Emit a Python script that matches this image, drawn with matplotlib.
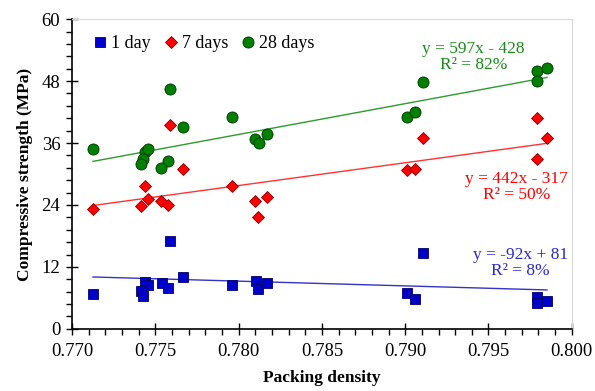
import numpy as np
import matplotlib.pyplot as plt
from matplotlib.ticker import MultipleLocator, FormatStrFormatter

plt.rcParams['font.family'] = ['Liberation Serif', 'DejaVu Serif']

# packing density / compressive strength for each curing age
x_1d = [0.77126, 0.77587, 0.77667, 0.77437, 0.77457, 0.77417, 0.77427, 0.77541, 0.77577,
        0.77958, 0.78102, 0.78118, 0.78168, 0.79109, 0.79013, 0.79059, 0.79791, 0.79791, 0.79851]
y_1d = [6.7, 17.0, 10.0, 9.0, 8.4, 7.4, 6.3, 8.8, 8.0,
        8.5, 9.3, 7.7, 8.8, 14.65, 7.0, 5.8, 6.25, 5.0, 5.4]

x_7d = [0.77126, 0.77437, 0.77457, 0.77417, 0.77587, 0.77667, 0.77537, 0.77577,
        0.77958, 0.78098, 0.78168, 0.78118, 0.79109, 0.79010, 0.79059, 0.79791, 0.79851, 0.79791]
y_7d = [23.2, 27.7, 25.2, 23.8, 39.5, 31.0, 24.8, 24.0,
        27.7, 24.8, 25.5, 21.7, 37.0, 30.8, 30.9, 40.9, 36.9, 33.0]

x_28d = [0.77126, 0.77437, 0.77457, 0.77427, 0.77417, 0.77587, 0.77667, 0.77577, 0.77537,
         0.77958, 0.78098, 0.78122, 0.78168, 0.79109, 0.79010, 0.79059, 0.79791, 0.79791, 0.79851]
y_28d = [34.8, 34.2, 34.8, 32.9, 31.9, 46.4, 39.1, 32.5, 31.1,
         41.1, 36.8, 36.1, 37.7, 47.9, 41.0, 42.1, 50.0, 48.1, 50.5]

labels = ['1 day', '7 days', '28 days']
slopes = [-92, 442, 597]
intercepts = [81, -317, -428]
eq_text = ['y = -92x + 81\nR² = 8%', 'y = 442x - 317\nR² = 50%', 'y = 597x - 428\nR² = 82%']

series = [(x_1d, y_1d), (x_7d, y_7d), (x_28d, y_28d)]
markers = ['s', 'D', 'o']
msizes = [7.5, 5.8, 8]
fills = ['#0000CC', '#FF0000', '#008000']
edges = ['#000066', '#8B0000', '#003300']
line_colors = ['#3333CC', '#FF3333', '#2E9B2E']
text_colors = ['#2A2ACC', '#FF0000', '#1A8A1A']
text_pos = [(0.7969, 12.8), (0.7967, 27.5), (0.7941, 52.6)]

fig, ax = plt.subplots(figsize=(5.95, 3.91), dpi=100)
fig.subplots_adjust(left=0.121, right=0.961, top=0.951, bottom=0.159)

handles = []
for i, (xs, ys) in enumerate(series):
    xs = np.array(xs)
    xl = np.array([xs.min(), xs.max()])
    ax.plot(xl, slopes[i] * xl + intercepts[i], color=line_colors[i], lw=1.0, zorder=2)
    h, = ax.plot(xs, ys, ls='none', marker=markers[i], ms=msizes[i],
                 mfc=fills[i], mec=edges[i], mew=0.6, label=labels[i], zorder=3)
    handles.append(h)
    ax.text(text_pos[i][0], text_pos[i][1], eq_text[i], color=text_colors[i],
            fontsize=12.5, ha='center', va='center', linespacing=1.0)

ax.set_xlim(0.770, 0.800)
ax.set_ylim(0, 60)
ax.xaxis.set_major_locator(MultipleLocator(0.005))
ax.xaxis.set_minor_locator(MultipleLocator(0.001))
ax.xaxis.set_major_formatter(FormatStrFormatter('%.3f'))
ax.yaxis.set_major_locator(MultipleLocator(12))
ax.yaxis.set_minor_locator(MultipleLocator(2.4))
ax.tick_params(which='major', direction='inout', length=9, width=1, labelsize=13.5, colors='black')
ax.tick_params(which='minor', direction='out', length=4, width=1)
ax.tick_params(axis='x', pad=6)
ax.tick_params(axis='y', pad=4)

for s in ['top', 'right']:
    ax.spines[s].set_color('#d9d9d9')
for s in ['left', 'bottom']:
    ax.spines[s].set_linewidth(1.2)

ax.set_xlabel('Packing density', fontsize=12.5, fontweight='bold', labelpad=7)
ax.set_ylabel('Compressive strength (MPa)', fontsize=12.5, fontweight='bold', labelpad=6)

ax.legend(handles=handles, loc='upper left', bbox_to_anchor=(0.01, 0.995), ncol=3,
          frameon=False, fontsize=13, handletextpad=0.1, columnspacing=0.6,
          handlelength=1.0, borderpad=0.3)

plt.savefig('out.png', dpi=100)
